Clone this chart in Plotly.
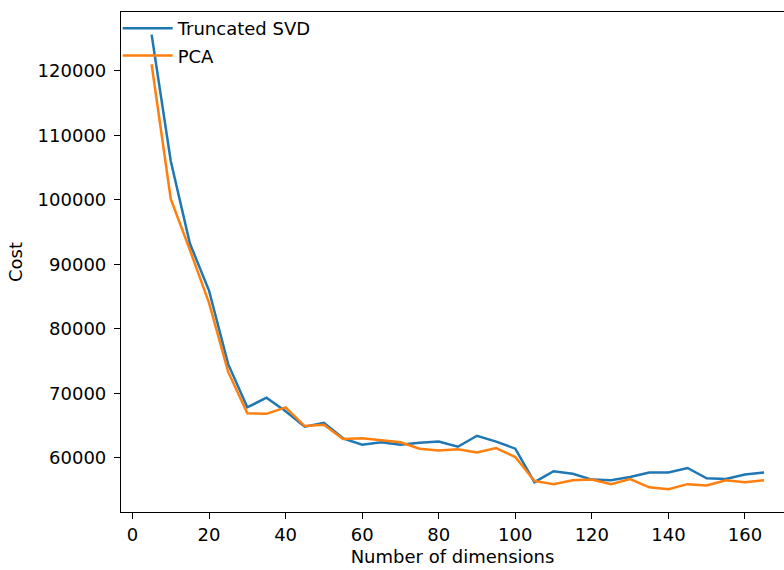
import plotly.graph_objects as go

dims = list(range(5, 170, 5))
svd_cost = [125600, 106000, 93200, 85900, 74500, 67800, 69300, 67200, 64800, 65400,
            63000, 62000, 62400, 62000, 62300, 62500, 61700, 63400, 62500, 61400,
            56200, 57900, 57500, 56600, 56500, 57000, 57700, 57700, 58400, 56800,
            56700, 57400, 57700]
pca_cost = [121000, 100100, 92200, 84000, 73300, 66900, 66800, 67800, 64900, 65100,
            62900, 63000, 62700, 62400, 61400, 61100, 61300, 60800, 61500, 60100,
            56400, 55900, 56500, 56600, 55900, 56700, 55400, 55100, 55900, 55700,
            56500, 56200, 56500]
x_ticks = [0, 20, 40, 60, 80, 100, 120, 140, 160]
y_ticks = [60000, 70000, 80000, 90000, 100000, 110000, 120000]
y_tick_labels = [str(v) for v in y_ticks]

font = "DejaVu Sans"
fs = 18
fig = go.Figure()
fig.add_trace(go.Scatter(x=dims, y=svd_cost, mode="lines", name="Truncated SVD",
                         line=dict(color="#1f77b4", width=2.5), legendgroup="a"))
fig.add_trace(go.Scatter(x=dims, y=pca_cost, mode="lines", name="PCA",
                         line=dict(color="#ff7f0e", width=2.5), legendgroup="b"))

axis_common = dict(showgrid=False, zeroline=False, showline=True, linecolor="black",
                   linewidth=1.2, ticks="outside", ticklen=6, tickwidth=1.2, tickcolor="black",
                   automargin=False,
                   tickfont=dict(family=font, size=fs, color="black"))
fig.update_layout(
    width=784, height=570,
    margin=dict(l=121, r=0, t=12, b=58),
    paper_bgcolor="white", plot_bgcolor="white",
    font=dict(family=font, size=fs, color="black"),
    xaxis=dict(range=[-3, 170.2], tickvals=x_ticks, mirror=True,
               title=dict(text="Number of dimensions", font=dict(family=font, size=fs), standoff=6),
               **axis_common),
    yaxis=dict(range=[51580, 129100], tickvals=y_ticks, ticktext=y_tick_labels,
               ticklabelstandoff=4,
               title=dict(text="Cost", font=dict(family=font, size=fs), standoff=10),
               **axis_common),
    legend=dict(x=-0.005, y=1.004, xanchor="left", yanchor="top", bgcolor="rgba(0,0,0,0)",
                traceorder="grouped", tracegroupgap=1, font=dict(family=font, size=fs),
                itemwidth=50),
    showlegend=True,
)
fig.write_html("out.html", config={"displayModeBar": False},
               post_script="document.body.style.margin='0';")
